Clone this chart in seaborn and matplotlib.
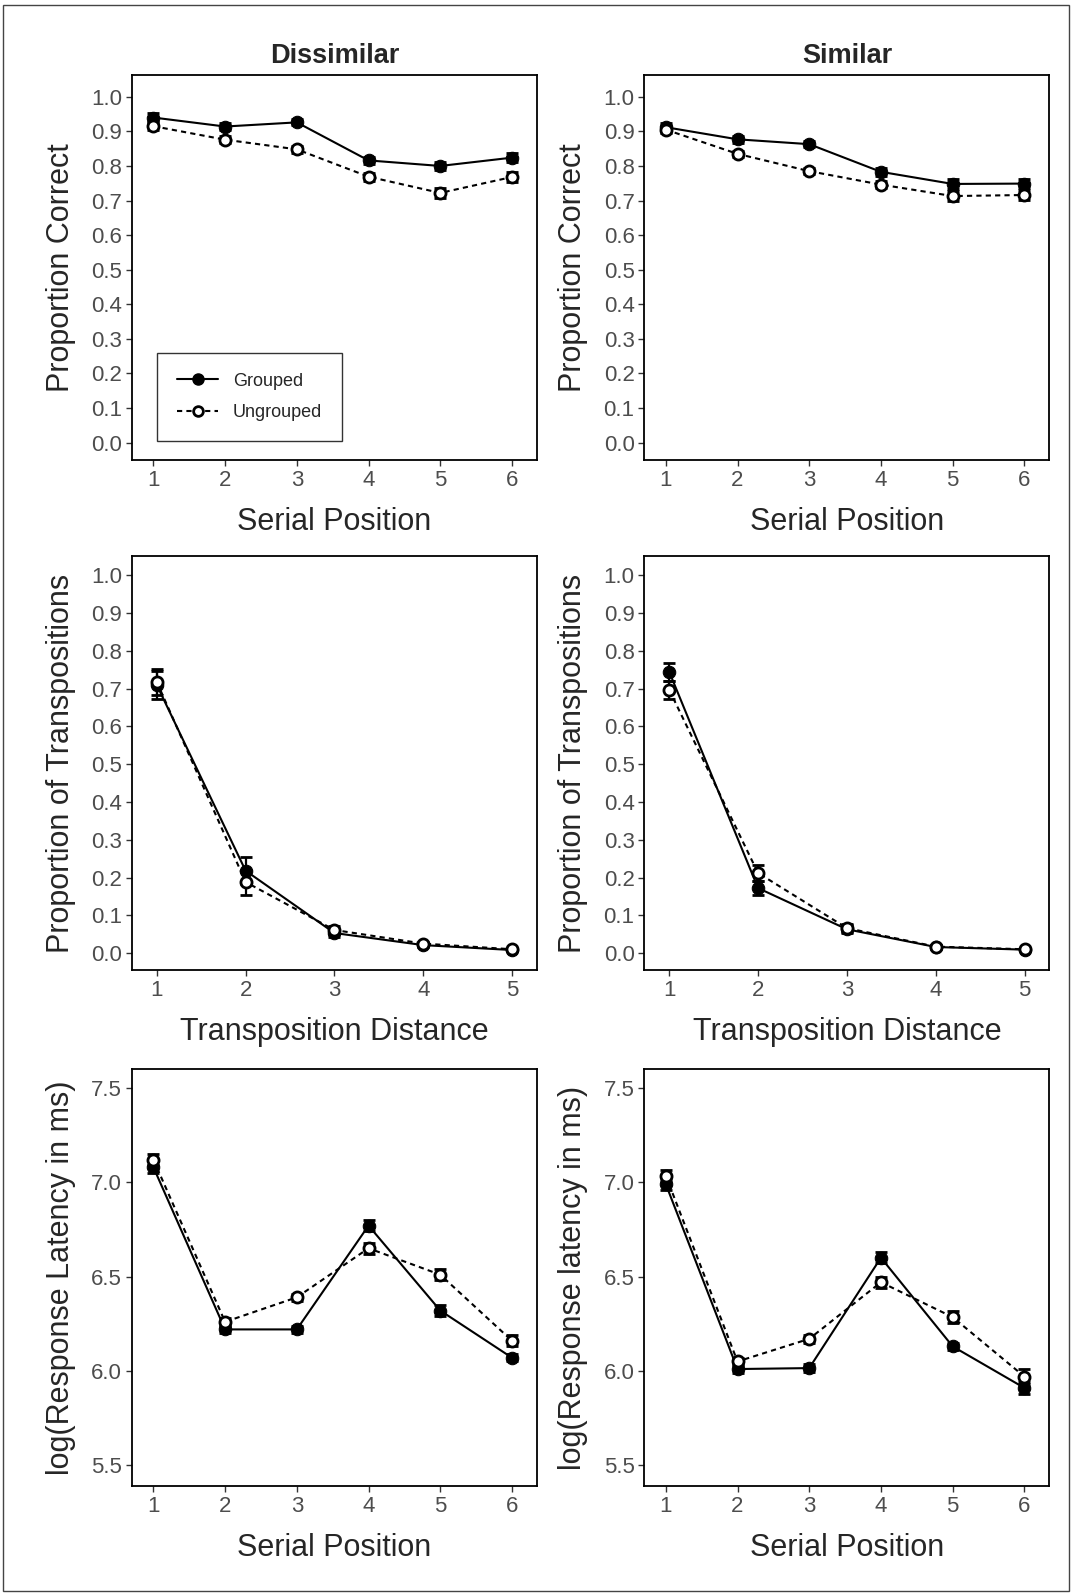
import pandas as pd
import matplotlib.pyplot as plt
import seaborn as sns
import numpy as np
from matplotlib.lines import Line2D

sns.set_style("white")
plt.rcParams['font.family'] = ['Liberation Sans', 'DejaVu Sans']

# serial positions / transposition distances
serial_pos = [1, 2, 3, 4, 5, 6]
trans_dist = [1, 2, 3, 4, 5]
groups = ["Grouped", "Ungrouped"]

# proportion correct
pc_dis_grp = [0.940, 0.914, 0.926, 0.816, 0.800, 0.824]
pc_dis_ung = [0.915, 0.876, 0.848, 0.769, 0.722, 0.768]
pc_dis_grp_se = [0.013, 0.011, 0.009, 0.010, 0.011, 0.014]
pc_dis_ung_se = [0.011, 0.010, 0.010, 0.012, 0.015, 0.015]
pc_sim_grp = [0.912, 0.877, 0.863, 0.783, 0.748, 0.749]
pc_sim_ung = [0.905, 0.835, 0.785, 0.746, 0.713, 0.716]
pc_sim_grp_se = [0.012, 0.010, 0.009, 0.012, 0.014, 0.014]
pc_sim_ung_se = [0.010, 0.009, 0.009, 0.010, 0.014, 0.014]

# proportion of transpositions
tr_dis_grp = [0.710, 0.218, 0.053, 0.021, 0.008]
tr_dis_ung = [0.718, 0.188, 0.061, 0.025, 0.010]
tr_dis_grp_se = [0.038, 0.035, 0.010, 0.005, 0.003]
tr_dis_ung_se = [0.035, 0.033, 0.010, 0.005, 0.003]
tr_sim_grp = [0.745, 0.172, 0.063, 0.016, 0.009]
tr_sim_ung = [0.697, 0.212, 0.066, 0.017, 0.010]
tr_sim_grp_se = [0.024, 0.018, 0.010, 0.004, 0.003]
tr_sim_ung_se = [0.024, 0.020, 0.010, 0.004, 0.003]

# log response latency
rt_dis_grp = [7.08, 6.22, 6.22, 6.77, 6.32, 6.07]
rt_dis_ung = [7.12, 6.26, 6.39, 6.65, 6.51, 6.16]
rt_dis_grp_se = [0.03, 0.02, 0.02, 0.03, 0.03, 0.02]
rt_dis_ung_se = [0.03, 0.02, 0.02, 0.03, 0.03, 0.03]
rt_sim_grp = [6.99, 6.01, 6.015, 6.60, 6.13, 5.91]
rt_sim_ung = [7.035, 6.05, 6.17, 6.47, 6.285, 5.97]
rt_sim_grp_se = [0.03, 0.02, 0.02, 0.03, 0.02, 0.03]
rt_sim_ung_se = [0.03, 0.02, 0.02, 0.03, 0.03, 0.04]

fig = plt.figure(figsize=(10.72, 15.96), dpi=100)
fig.add_artist(plt.Rectangle((0.003, 0.003), 0.994, 0.994, transform=fig.transFigure,
                             fill=False, edgecolor='#444444', linewidth=1))

lefts = [0.123, 0.601]
rows = [(0.7118, 0.241), (0.3922, 0.2594), (0.0689, 0.2613)]

panels = [
    (0, 0, serial_pos, pc_dis_grp, pc_dis_ung, pc_dis_grp_se, pc_dis_ung_se),
    (0, 1, serial_pos, pc_sim_grp, pc_sim_ung, pc_sim_grp_se, pc_sim_ung_se),
    (1, 0, trans_dist, tr_dis_grp, tr_dis_ung, tr_dis_grp_se, tr_dis_ung_se),
    (1, 1, trans_dist, tr_sim_grp, tr_sim_ung, tr_sim_grp_se, tr_sim_ung_se),
    (2, 0, serial_pos, rt_dis_grp, rt_dis_ung, rt_dis_grp_se, rt_dis_ung_se),
    (2, 1, serial_pos, rt_sim_grp, rt_sim_ung, rt_sim_grp_se, rt_sim_ung_se),
]
xlabels = ["Serial Position", "Transposition Distance", "Serial Position"]
ylabels = [["Proportion Correct"] * 2, ["Proportion of Transpositions"] * 2,
           ["log(Response Latency in ms)", "log(Response latency in ms)"]]

for r, c, xs, g, u, gse, use in panels:
    b, h = rows[r]
    ax = fig.add_axes([lefts[c], b, 0.378, h])
    df = pd.DataFrame({"x": xs + xs, "y": g + u,
                       "group": ["Grouped"] * len(xs) + ["Ungrouped"] * len(xs)})
    # error bars
    for vals, se in [(u, use), (g, gse)]:
        ax.errorbar(xs, vals, yerr=se, fmt='none', ecolor='black', elinewidth=1.6,
                    capsize=5, capthick=1.6, zorder=2)
    sns.lineplot(data=df, x="x", y="y", style="group", style_order=groups,
                 dashes={"Grouped": "", "Ungrouped": (2.5, 2)},
                 markers={"Grouped": "o", "Ungrouped": "o"},
                 color="black", linewidth=1.5, markersize=9, ax=ax, legend=False,
                 zorder=3)
    # filled vs open markers
    for ln in ax.get_lines():
        if ln.get_linestyle() == '-':
            ln.set_markerfacecolor('black')
            ln.set_markeredgecolor('black')
        else:
            ln.set_markerfacecolor('white')
            ln.set_markeredgecolor('black')
            ln.set_markeredgewidth(2)
            ln.set_markersize(8)

    if r == 0:
        ax.set_ylim(-0.05, 1.062)
        ax.set_yticks(np.arange(0, 1.01, 0.1))
        ax.set_yticklabels([f"{v:.1f}" for v in np.arange(0, 1.01, 0.1)])
        ax.set_xlim(0.7, 6.35)
        ax.set_xticks(serial_pos)
    elif r == 1:
        ax.set_ylim(-0.045, 1.051)
        ax.set_yticks(np.arange(0, 1.01, 0.1))
        ax.set_yticklabels([f"{v:.1f}" for v in np.arange(0, 1.01, 0.1)])
        ax.set_xlim(0.72, 5.28)
        ax.set_xticks(trans_dist)
    else:
        ax.set_ylim(5.39, 7.60)
        ax.set_yticks([5.5, 6.0, 6.5, 7.0, 7.5])
        ax.set_yticklabels(["5.5", "6.0", "6.5", "7.0", "7.5"])
        ax.set_xlim(0.7, 6.35)
        ax.set_xticks(serial_pos)

    for sp in ax.spines.values():
        sp.set_visible(True)
        sp.set_color('black')
        sp.set_linewidth(1.3)
    ax.tick_params(axis='both', which='both', direction='out', length=4, width=1,
                   color='#333333', labelsize=16, labelcolor='#4D4D4D',
                   left=True, bottom=True, pad=3)
    ax.set_xlabel(xlabels[r], fontsize=22, labelpad=12)
    ax.set_ylabel(ylabels[r][c], fontsize=22, labelpad=11)

    if r == 0:
        ax.set_title(["Dissimilar", "Similar"][c], fontsize=19.5, fontweight='bold', pad=9)
    if r == 0 and c == 0:
        handles = [
            Line2D([], [], color='black', linestyle='-', marker='o', markersize=8,
                   markerfacecolor='black', linewidth=1.5),
            Line2D([], [], color='black', linestyle=(0, (2.5, 2)), marker='o', markersize=7,
                   markerfacecolor='white', markeredgewidth=2, linewidth=1.5),
        ]
        leg = ax.legend(handles, groups, loc='lower left', bbox_to_anchor=(0.062, 0.049),
                        fontsize=13, frameon=True, fancybox=False, edgecolor='black',
                        handlelength=2.3, borderpad=1.1, labelspacing=0.8,
                        handletextpad=0.8, borderaxespad=0)
        leg.get_frame().set_linewidth(1)

fig.savefig("out.png", dpi=100)
